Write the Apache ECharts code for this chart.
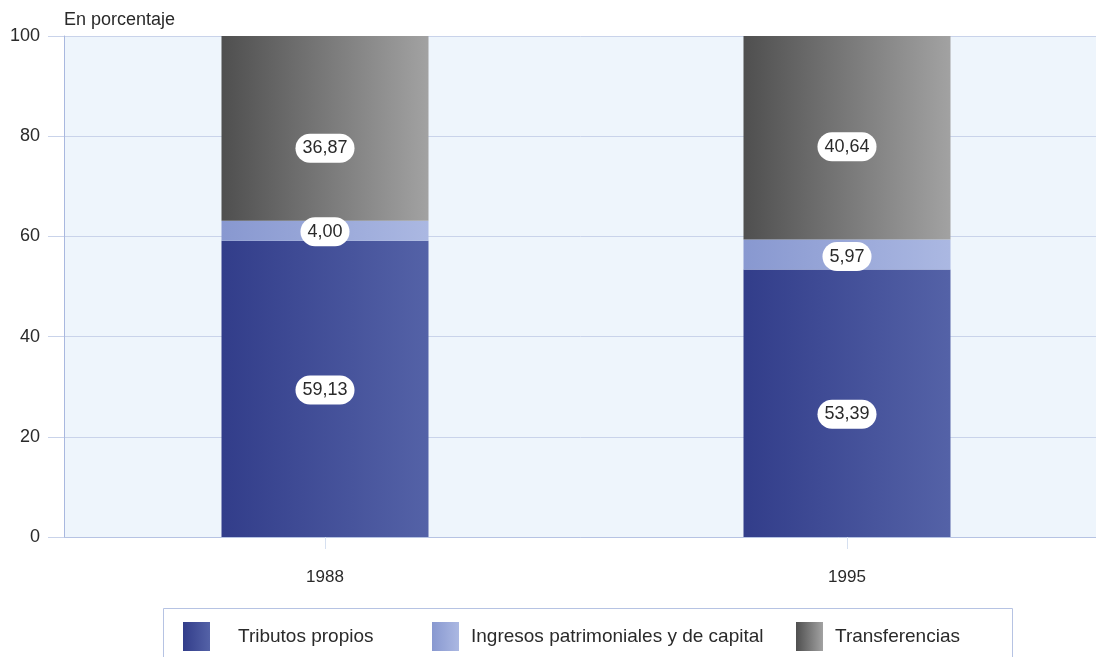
<!DOCTYPE html>
<html>
<head>
<meta charset="utf-8">
<script src="https://cdn.jsdelivr.net/npm/echarts@6/dist/echarts.min.js"></script>
<style>
html,body{margin:0;padding:0;background:#fff;}
#chart{width:1096px;height:657px;}
</style>
</head>
<body>
<div id="chart"></div>
<script>
const categories = ['1988', '1995'];
const tributosPropios = [59.13, 53.39];
const ingresosPatrimoniales = [4.00, 5.97];
const transferencias = [36.87, 40.64];
const yTicks = [0, 20, 40, 60, 80, 100];
const seriesNames = ['Tributos propios', 'Ingresos patrimoniales y de capital', 'Transferencias'];

const FONT = '"Liberation Sans", Arial, sans-serif';

function grad(c1, c2) {
  return { type: 'linear', x: 0, y: 0, x2: 1, y2: 0,
    colorStops: [{ offset: 0, color: c1 }, { offset: 1, color: c2 }] };
}
const colors = [
  grad('#323d8a', '#5462a7'),
  grad('#8898d0', '#abb8e2'),
  grad('#4f4f4f', '#a2a2a2')
];

const labelStyle = {
  show: true,
  position: 'inside',
  formatter: p => p.value.toFixed(2).replace('.', ','),
  backgroundColor: '#ffffff',
  borderRadius: 15,
  padding: [6, 7, 5, 7],
  fontSize: 18,
  fontFamily: FONT,
  color: '#2a2a2a'
};

function makeSeries(name, values, color, offsets) {
  return {
    name: name,
    type: 'bar',
    stack: 'total',
    barWidth: 207,
    itemStyle: { color: color },
    label: labelStyle,
    data: values.map((v, i) => ({ value: v, label: { offset: [0, offsets[i]] } }))
  };
}

const chart = echarts.init(document.getElementById('chart'), null, { renderer: 'canvas' });
chart.setOption({
  animation: false,
  backgroundColor: '#ffffff',
  textStyle: { fontFamily: FONT },
  title: {
    text: 'En porcentaje',
    left: 59, top: 6,
    textStyle: { fontSize: 18, fontWeight: 'normal', color: '#2a2a2a', fontFamily: FONT }
  },
  grid: {
    left: 64, top: 36, width: 1044, bottom: 120,
    outerBoundsMode: 'none',
    containLabel: false,
    show: true, backgroundColor: '#eef5fc', borderWidth: 0
  },
  graphic: [{
    type: 'rect',
    shape: { x: 163.5, y: 608.5, width: 849, height: 70 },
    style: { fill: '#ffffff', stroke: '#b6c3e3', lineWidth: 1 },
    z: 0
  }],
  legend: [0, 1, 2].map((i) => ({
    data: [seriesNames[i]],
    left: [183, 432, 796][i],
    top: 622,
    padding: 0,
    icon: 'rect',
    itemWidth: 27,
    itemHeight: 29,
    itemGap: 0,
    itemStyle: { borderWidth: 0 },
    textStyle: { fontSize: 19, color: '#2a2a2a', fontFamily: FONT, padding: [0, 0, 0, [23, 7, 7][i]] },
    selectedMode: false,
    z: 5
  })),
  xAxis: {
    type: 'category',
    data: categories,
    axisLine: { show: true, lineStyle: { color: '#b6c3e3', width: 1 } },
    axisTick: { show: true, alignWithLabel: true, length: 12, lineStyle: { color: '#d6e0f0' } },
    axisLabel: { fontSize: 17, color: '#2a2a2a', margin: 32, fontFamily: FONT }
  },
  yAxis: {
    type: 'value',
    min: 0, max: 100, interval: 20,
    axisLine: { show: true, lineStyle: { color: '#a9b8df', width: 1 } },
    axisTick: { show: true, length: 16, lineStyle: { color: '#c9d3ea' } },
    splitLine: { show: true, lineStyle: { color: '#c9d3ea', width: 1 } },
    axisLabel: {
      fontSize: 18, color: '#2a2a2a', margin: 24, fontFamily: FONT,
      formatter: v => yTicks.includes(v) ? String(v) : ''
    }
  },
  series: [
    makeSeries(seriesNames[0], tributosPropios, colors[0], [1, 11]),
    makeSeries(seriesNames[1], ingresosPatrimoniales, colors[1], [1, 2]),
    makeSeries(seriesNames[2], transferencias, colors[2], [20, 9])
  ]
});
</script>
</body>
</html>
